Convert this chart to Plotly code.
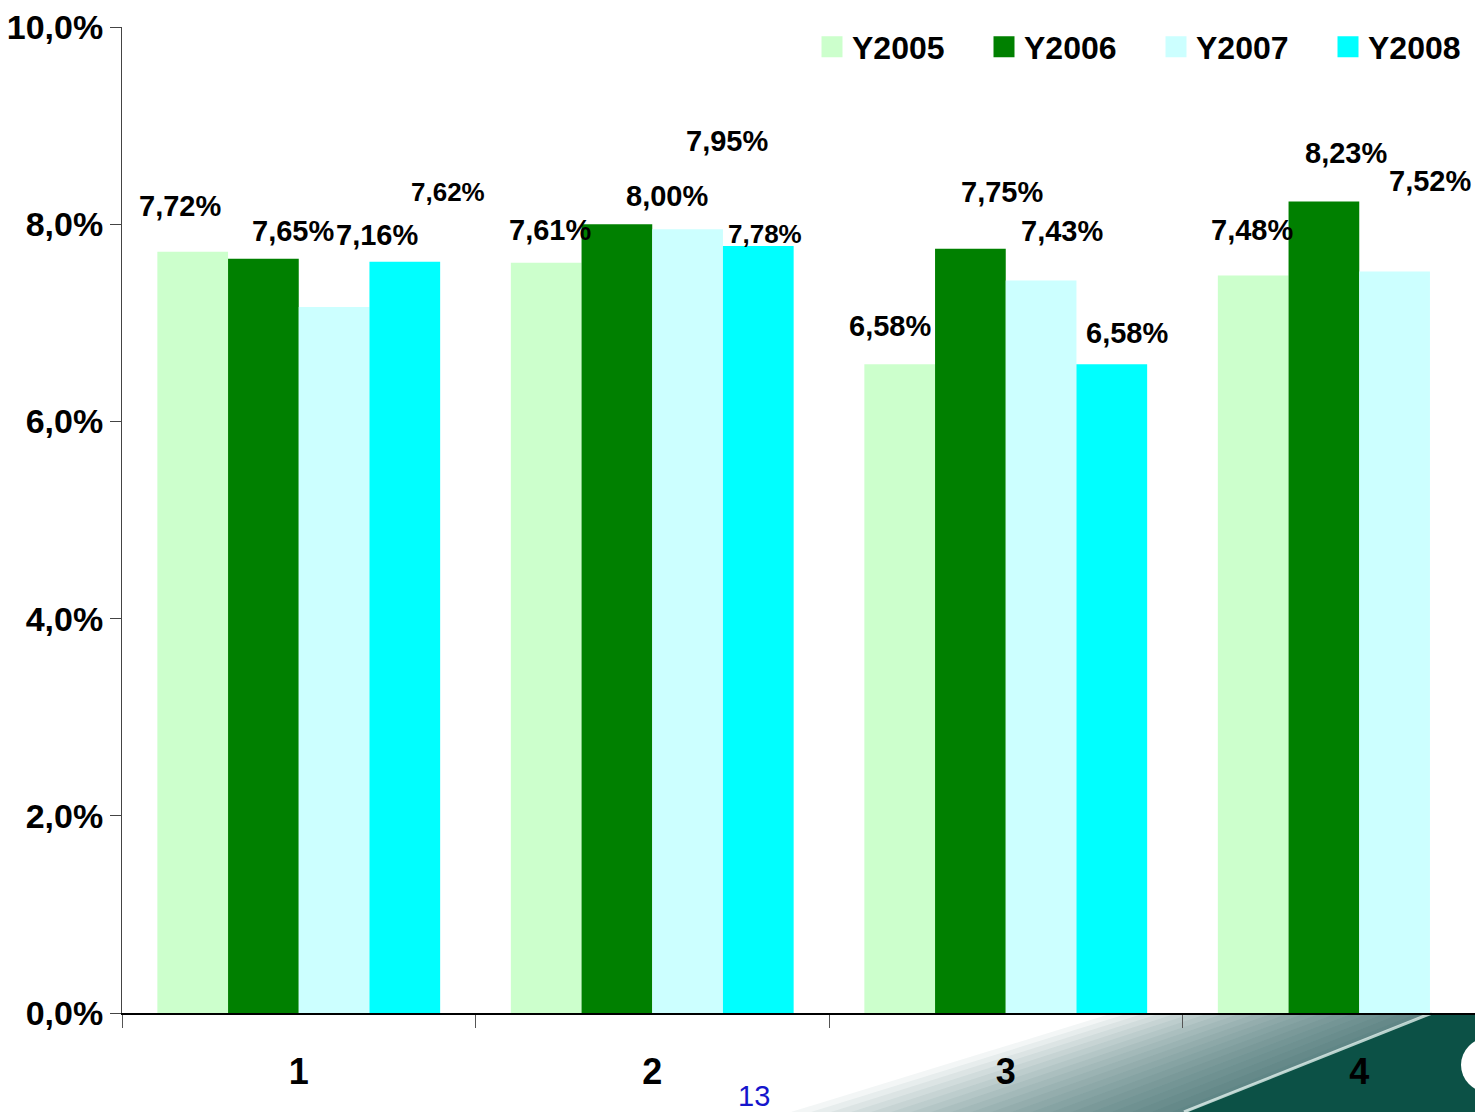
import plotly.graph_objects as go

# ---------------- data ----------------
categories = ["1", "2", "3", "4"]
series_names = ["Y2005", "Y2006", "Y2007", "Y2008"]
y2005 = [7.72, 7.61, 6.58, 7.48]
y2006 = [7.65, 8.00, 7.75, 8.23]
y2007 = [7.16, 7.95, 7.43, 7.52]
y2008 = [7.62, 7.78, 6.58, None]
y_tick_vals = [0, 2, 4, 6, 8, 10]
y_tick_text = ["0,0%", "2,0%", "4,0%", "6,0%", "8,0%", "10,0%"]
page_number = "13"

# ---------------- styles ----------------
colors = ["#CCFFCC", "#008000", "#CCFFFF", "#00FFFF"]
FONT = "Liberation Sans, Arial, sans-serif"

# label offsets (px) relative to category centre / bar top, per series
label_dx = [[-119, -102, -116, -107],
            [-6, 15, -4, -13],
            [78, 75, 56, 71],
            [149, 113, 121, 0]]
label_dy = [[46, 33, 38, 45],
            [28, 28, 57, 49],
            [72, 88, 49, 91],
            [70, 12, 31, 0]]
small_labels = {(3, 0), (3, 1)}

W, H = 1475, 1112
L, R, T, B = 122, 0, 27, 99
plot_w = W - L - R
plot_h = H - T - B
cat_px = 353.5  # width of one category in the reference


def px(x):
    return (x - L) / plot_w


def py(y):
    return (H - B - y) / plot_h


all_series = [y2005, y2006, y2007, y2008]

fig = go.Figure()
for name, vals, col in zip(series_names, all_series, colors):
    fig.add_trace(go.Bar(x=categories, y=vals, name=name, marker=dict(color=col, line=dict(width=0)),
                         showlegend=False, hoverinfo="skip"))
# legend proxies (larger squares)
for name, col in zip(series_names, colors):
    fig.add_trace(go.Scatter(x=[None], y=[None], mode="markers", name=name,
                             marker=dict(symbol="square", size=16, color=col, line=dict(color=col, width=5))))

annotations = []
for si, vals in enumerate(all_series):
    for ci, v in enumerate(vals):
        if v is None:
            continue
        txt = f"{v:.2f}".replace(".", ",") + "%"
        small = (si, ci) in small_labels
        annotations.append(dict(
            x=ci, y=v, xref="x", yref="y", text=txt, showarrow=False,
            xshift=label_dx[si][ci], yshift=label_dy[si][ci],
            xanchor="center", yanchor="middle",
            font=dict(family=FONT, size=26 if small else 29, color="black", weight="bold")))

annotations.append(dict(x=px(754), y=py(1096), xref="paper", yref="paper", text=page_number,
                        showarrow=False, xanchor="center", yanchor="middle",
                        font=dict(family=FONT, size=29, color="#1515CC")))

# decorative swoosh in the lower right corner
shapes = []
teal = "#0B5247"
for d in range(12, 400, 20):
    path = (f"M {px(1183 - d)},{py(1112)} L {px(1427 - d * 0.8)},{py(1013)} "
            f"L {px(1475)},{py(1013)} L {px(1475)},{py(1112)} Z")
    shapes.append(dict(type="path", path=path, xref="paper", yref="paper", layer="below",
                       fillcolor=teal, opacity=0.05, line=dict(width=0)))
path = (f"M {px(1186)},{py(1112)} L {px(1430)},{py(1013)} "
        f"L {px(1475)},{py(1013)} L {px(1475)},{py(1112)} Z")
shapes.append(dict(type="path", path=path, xref="paper", yref="paper", layer="below",
                   fillcolor="#0C5146", line=dict(width=0)))
shapes.append(dict(type="line", x0=px(1184), y0=py(1112), x1=px(1432), y1=py(1013),
                   xref="paper", yref="paper", layer="below",
                   line=dict(color="rgba(225,240,236,0.8)", width=3)))
shapes.append(dict(type="circle", x0=px(1461), y0=py(1092), x1=px(1515), y1=py(1038),
                   xref="paper", yref="paper", layer="below",
                   fillcolor="white", line=dict(width=0)))

fig.update_layout(
    width=W, height=H, autosize=False,
    margin=dict(l=L, r=R, t=T, b=B, pad=0, autoexpand=False),
    paper_bgcolor="white", plot_bgcolor="rgba(0,0,0,0)",
    barmode="group", bargap=0.2, bargroupgap=0,
    showlegend=True,
    legend=dict(orientation="h", x=px(1500), xanchor="right", y=py(47), yanchor="middle",
                font=dict(family=FONT, size=32, color="black", weight="bold"),
                bgcolor="rgba(0,0,0,0)", entrywidth=127, entrywidthmode="pixels",
                itemclick=False, itemdoubleclick=False),
    annotations=annotations,
    shapes=shapes,
    xaxis=dict(type="category", range=[-0.5, -0.5 + plot_w / cat_px], automargin=False,
               showline=True, linecolor="black", linewidth=1.5,
               ticks="outside", tickson="boundaries", ticklen=13, tickcolor="#555555",
               tickwidth=1, showgrid=False, zeroline=False,
               tickfont=dict(family=FONT, size=36, color="black", weight="bold"),
               ticklabelstandoff=26, fixedrange=True),
    yaxis=dict(range=[0, 10], tickvals=y_tick_vals, ticktext=y_tick_text, automargin=False,
               showline=True, linecolor="#444444", linewidth=1,
               ticks="outside", ticklen=11, tickcolor="#444444", tickwidth=1,
               showgrid=False, zeroline=False,
               tickfont=dict(family=FONT, size=34, color="black", weight="bold"),
               fixedrange=True),
)

fig.write_html("out.html", config={"displayModeBar": False},
               post_script="document.body.style.margin='0px';")
